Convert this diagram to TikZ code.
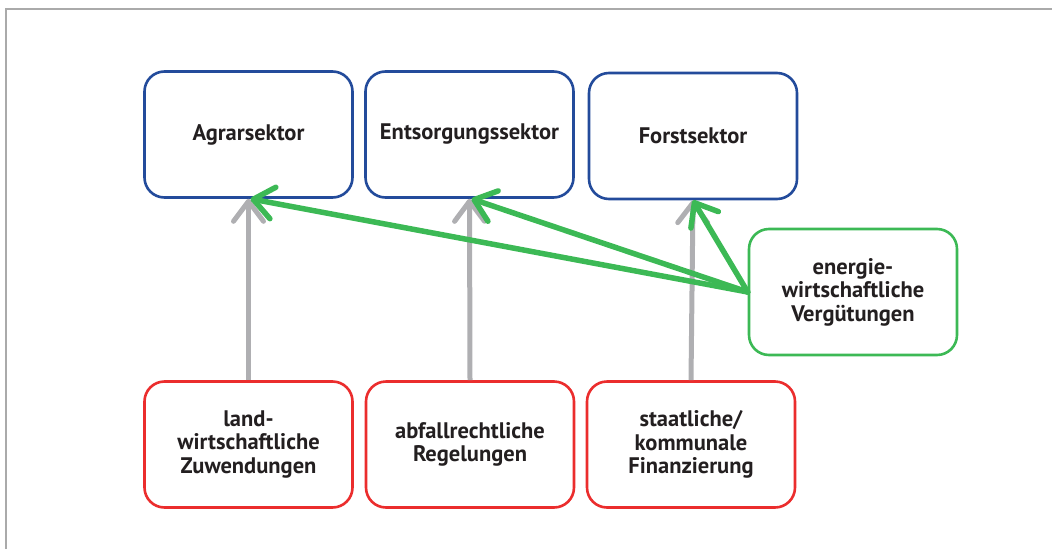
\documentclass[tikz,border=0pt]{standalone}
\usepackage{fontspec}
\setmainfont{PT Sans}
\usepackage{xcolor}
\usepackage{tikz}
\usetikzlibrary{
	arrows.meta,
	positioning
}
\definecolor{SektorBlue}{RGB}{35,75,155}
\definecolor{QuelleRed}{RGB}{235,45,45}
\definecolor{EnergieGreen}{RGB}{60,185,85}
\definecolor{PfeilGray}{RGB}{175,175,178}
\definecolor{RahmenGray}{RGB}{170,170,170}
\definecolor{TextBlack}{RGB}{35,31,32}

\tikzset{
	kasten/.style={rounded corners=20pt, line width=2.6pt, fill=white,
		minimum width=208pt, minimum height=126pt, align=center,
		text=TextBlack, font=\fontsize{22.5}{23.5}\selectfont\bfseries},
	sektor/.style={kasten, draw=SektorBlue},
	quelle/.style={kasten, draw=QuelleRed},
	energie/.style={kasten, draw=EnergieGreen},
	grauPfeil/.style={PfeilGray, line width=5pt,
		-{Straight Barb[length=20pt, width=30pt, line width=5pt, round]}},
	gruenPfeil/.style={EnergieGreen, line width=5.5pt, line cap=round,
		-{Straight Barb[length=20pt, width=32pt, line width=5.5pt, round]}}
}

\begin{document}
\begin{tikzpicture}[x=1pt, y=-1pt]
		\useasboundingbox (0,0) rectangle (1052,549);
		
		% Rahmen nur oben und links
		\draw[RahmenGray, line width=1.6pt] (6,549) -- (6,9) -- (1052,9);
		
		\node[sektor] (agrar) at (248.5,134.5) {Agrarsektor};
		\node[sektor] (entsorgung) at (469.5,134.5) {Entsorgungssektor};
		\node[sektor] (forst) at (693,136) {Forstsektor};
		
		\node[quelle] (land) at (248.5,444.5) {land-\\wirtschaftliche\\Zuwendungen};
		\node[quelle] (abfall) at (470,444.5) {abfallrechtliche\\Regelungen};
		\node[quelle] (staat) at (691,444.5) {staatliche/\\kommunale\\Finanzierung};
		
		\node[energie] (verguetung) at (853,292) {energie-\\wirtschaftliche\\Vergütungen};
		
		\draw[grauPfeil] (land.north) -- (agrar.south);
		\draw[grauPfeil] (abfall.north) -- (entsorgung.south);
		\draw[grauPfeil] (staat.north) -- (forst.south);
		
		\draw[gruenPfeil] (verguetung.west) -- ([xshift=2pt]agrar.south);
		\draw[gruenPfeil] (verguetung.west) -- ([xshift=2pt]entsorgung.south);
		\draw[gruenPfeil] (verguetung.west) -- (forst.south);
	\end{tikzpicture}
\end{document}
